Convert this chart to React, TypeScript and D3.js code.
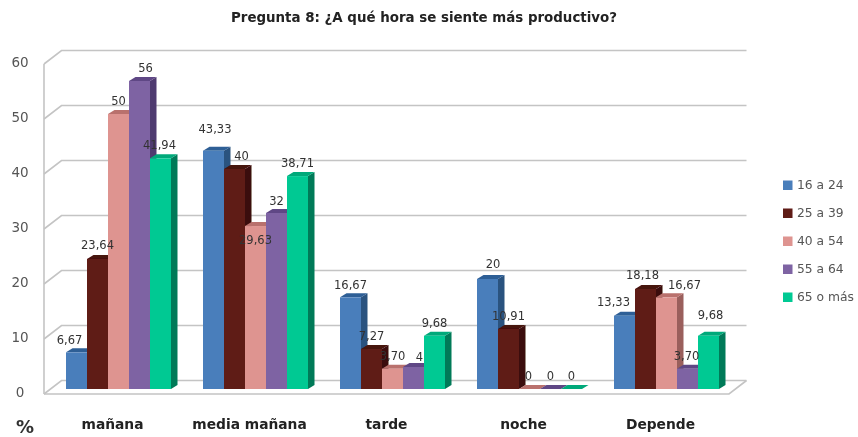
import React from "react";
import * as d3 from "d3";

const categories = ["mañana", "media mañana", "tarde", "noche", "Depende"];
const seriesNames = ["16 a 24", "25 a 39", "40 a 54", "55 a 64", "65 o más"];
const s16a24 = [6.67, 43.33, 16.67, 20, 13.33];
const s25a39 = [23.64, 40, 7.27, 10.91, 18.18];
const s40a54 = [50, 29.63, 3.7, 0, 16.67];
const s55a64 = [56, 32, 4, 0, 3.7];
const s65mas = [41.94, 38.71, 9.68, 0, 9.68];
const seriesValues = [s16a24, s25a39, s40a54, s55a64, s65mas];
const yTicks = [0, 10, 20, 30, 40, 50, 60];
const colors = ["#4a7ebb", "#5f1d17", "#de9490", "#7e63a3", "#00c993"];
const topColors = ["#2f5f96", "#47120e", "#b9716d", "#5f4785", "#00a97a"];
const sideColors = ["#2a527f", "#3b0e0a", "#9a5f5c", "#4f3a70", "#007a58"];
// label nudges from the default spot, [dx, dy] per series then per category
const labelNudge: [number, number][][] = [
  [[-7, -12], [1.5, -21], [0, -12], [5.5, -15], [-11, -13]],
  [[0, -13], [7, -13], [0, -13], [0, -12], [-3, -14]],
  [[0, -13], [0, 14], [0, -12], [-1, -13], [18, -12]],
  [[6, -13], [0, -12], [6, -10], [0, -13], [-1, -12]],
  [[-1, -13], [0, -13], [0, -12], [0, -13], [2, -20]],
];

const FONT = "'DejaVu Sans', sans-serif";
const depthX = 17.5, depthY = 13.5;
const barDX = 6.5, barDY = 4;
const fmt = (v: number) => {
  if (Number.isInteger(v)) return String(v);
  return v.toFixed(2).replace(".", ",");
};

export default function App() {
  const x = d3.scaleBand<string>().domain(categories).range([44, 729]);
  const inner = d3.scaleBand<number>().domain(d3.range(5)).range([22, 127]);
  const yFloor = d3.scaleLinear().domain([0, 60]).range([394, 64]);
  const yBar = d3.scaleLinear().domain([0, 60]).range([389, 59]);
  const w = inner.bandwidth();

  return (
    <svg width={858} height={437} style={{ position: "absolute", left: 0, top: 0, background: "#fff" }} fontFamily={FONT}>
      <defs>
        <filter id="soft" x="-2%" y="-2%" width="104%" height="104%">
          <feGaussianBlur stdDeviation="0.65" />
        </filter>
      </defs>
      <g filter="url(#soft)">
        <text x={424} y={22} textAnchor="middle" fontWeight={700} fontSize={13.4} fill="#222">
          Pregunta 8: ¿A qué hora se siente más productivo?
        </text>
        {/* walls and gridlines */}
        <line x1={44} x2={44} y1={yFloor(60)} y2={yFloor(0)} stroke="#c4c4c4" strokeWidth={1.6} />
        {yTicks.map((t) => (
          <g key={t}>
            <polyline
              points={`${44},${yFloor(t)} ${44 + depthX},${yFloor(t) - depthY} ${729 + depthX},${yFloor(t) - depthY}`}
              fill="none"
              stroke="#c4c4c4"
              strokeWidth={1.6}
            />
            <text x={20} y={yFloor(t) - 1} textAnchor="middle" dominantBaseline="middle" fontSize={13.5} fill="#555">
              {t}
            </text>
          </g>
        ))}
        <polyline
          points={`${44},${yFloor(0)} ${729},${yFloor(0)} ${729 + depthX},${yFloor(0) - depthY}`}
          fill="none"
          stroke="#c4c4c4"
          strokeWidth={1.6}
        />
        {/* bars */}
        {categories.map((c, ci) => (
          <g key={c}>
            {seriesValues.map((vals, si) => {
              const x0 = (x(c) as number) + (inner(si) as number);
              const x1 = x0 + w;
              const yt = yBar(vals[ci]);
              const yb = yBar(0);
              return (
                <g key={si}>
                  <polygon
                    points={`${x1},${yt} ${x1 + barDX},${yt - barDY} ${x1 + barDX},${yb - barDY} ${x1},${yb}`}
                    fill={sideColors[si]}
                  />
                  <polygon
                    points={`${x0},${yt} ${x0 + barDX},${yt - barDY} ${x1 + barDX},${yt - barDY} ${x1},${yt}`}
                    fill={topColors[si]}
                  />
                  <rect x={x0} y={yt} width={w} height={yb - yt} fill={colors[si]} />
                </g>
              );
            })}
          </g>
        ))}
        {/* value labels */}
        {categories.map((c, ci) =>
          seriesValues.map((vals, si) => {
            const cx = (x(c) as number) + (inner(si) as number) + w / 2;
            const [dx, dy] = labelNudge[si][ci];
            return (
              <text
                key={`${ci}-${si}`}
                x={cx + dx}
                y={yBar(vals[ci]) + dy}
                textAnchor="middle"
                dominantBaseline="middle"
                fontSize={11.5}
                fill="#333"
              >
                {fmt(vals[ci])}
              </text>
            );
          })
        )}
        {/* category labels */}
        {categories.map((c) => (
          <text
            key={c}
            x={(x(c) as number) + x.bandwidth() / 2}
            y={425}
            textAnchor="middle"
            dominantBaseline="middle"
            fontWeight={700}
            fontSize={13.8}
            fill="#222"
          >
            {c}
          </text>
        ))}
        <text x={25} y={428} textAnchor="middle" dominantBaseline="middle" fontWeight={700} fontSize={18} fill="#333">
          %
        </text>
        {/* legend */}
        {seriesNames.map((n, i) => (
          <g key={n} transform={`translate(783,${185 + i * 28})`}>
            <rect x={0} y={-4.5} width={9.5} height={9.5} fill={colors[i]} />
            <text x={14} y={0} dominantBaseline="middle" fontSize={12.3} fill="#555">
              {n}
            </text>
          </g>
        ))}
      </g>
    </svg>
  );
}
